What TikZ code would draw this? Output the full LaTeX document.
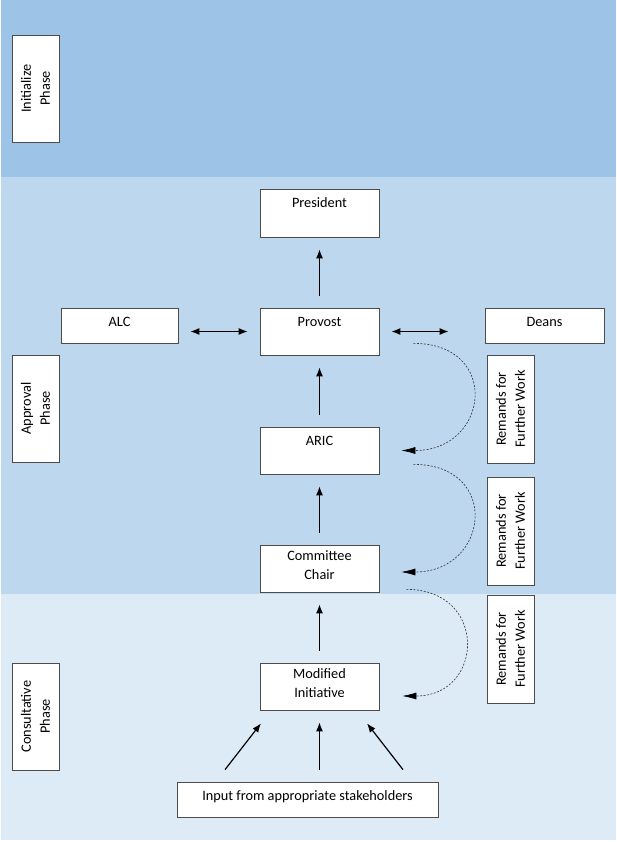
\documentclass[tikz,border=0pt]{standalone}
\usepackage{fontspec}
\setmainfont{Carlito}
\usetikzlibrary{arrows.meta}
\definecolor{initblue}{HTML}{9DC3E6}
\definecolor{apprblue}{HTML}{BDD7EE}
\definecolor{consblue}{HTML}{DDEBF7}
\tikzset{
  box/.style={draw=black!70, fill=white, line width=0.7pt, inner sep=0pt},
  main/.style={box, minimum width=119pt, minimum height=47pt},
  wide/.style={box, minimum height=35pt},
  lbl/.style={anchor=north, inner sep=0pt, align=center, yshift=-5.5pt, execute at begin node=\strut},
  phase/.style={box, rotate=90, align=center, minimum width=107pt, minimum height=47pt},
  remand/.style={box, rotate=90, align=center, minimum width=108pt, minimum height=47pt},
  arr/.style={-{Latex[length=9pt,width=7pt]}, line width=1.2pt, shorten <=12pt, shorten >=12pt},
  dbl/.style={{Latex[length=9pt,width=7pt]}-{Latex[length=9pt,width=7pt]}, line width=1.2pt},
  back/.style={-{Latex[length=14pt,width=7pt,color=black]}, dash pattern=on 2pt off 1.5pt, black!80, line width=0.6pt},
}
\begin{document}
\begin{tikzpicture}[x=1pt, y=-1pt, font=\fontsize{14.3}{19}\selectfont]
    \useasboundingbox (0,0) rectangle (616,842);
    % Phase bands
    \fill[initblue] (1,0) rectangle (616,177);
    \fill[apprblue] (1,177) rectangle (616,594);
    \fill[consblue] (1,594) rectangle (616,840);

    % Phase labels
    \node[phase] (init) at (35.5,88.5) {Initialize\\Phase};
    \node[phase] (appr) at (35.5,408.5) {Approval\\Phase};
    \node[phase] (cons) at (35.5,716.5) {Consultative\\Phase};

    % Nodes with manual coordinates
    \node[main, minimum height=48pt, label={[lbl]north:President}] (pres) at (319.5,213) {};
    \node[main, label={[lbl]north:Provost}] (prov) at (319.5,331.5) {};
    \node[main, label={[lbl]north:ARIC}] (aric) at (319.5,450.5) {};
    \node[main, label={[lbl]north:Committee\\Chair}] (chair) at (319.5,568.5) {};
    \node[main, label={[lbl]north:Modified\\Initiative}] (modi) at (319.5,686.5) {};
    \node[wide, minimum width=117pt, label={[lbl]north:ALC}] (alc) at (119.5,325.5) {};
    \node[wide, minimum width=119pt, label={[lbl]north:Deans}] (deans) at (544.5,325.5) {};
    \node[wide, minimum width=261pt, label={[lbl]north:Input from appropriate stakeholders}] (input) at (307.5,799.5) {};

    % Remands
    \node[remand] (rem1) at (510.5,409) {Remands for\\Further Work};
    \node[remand] (rem2) at (510.5,531) {Remands for\\Further Work};
    \node[remand] (rem3) at (510.5,649) {Remands for\\Further Work};

    % Edges
    \draw[arr] (prov) -- (pres);
    \draw[arr] (aric) -- (prov);
    \draw[arr] (chair) -- (aric);
    \draw[arr] (modi) -- (chair);
    \draw[dbl, shorten <=12pt, shorten >=12pt] (alc.east |- prov.west) -- (prov.west);
    \draw[dbl, shorten <=12pt, shorten >=36pt] (prov.east) -- (deans.west |- prov.east);
    \draw[arr, shorten <=0pt, shorten >=0pt] ([xshift=-82.5pt,yshift=12pt]input.north) -- ([xshift=-58.5pt,yshift=-13pt]modi.south);
    \draw[arr] (input.north -| modi.south) -- (modi.south);
    \draw[arr, shorten <=0pt, shorten >=0pt] ([xshift=95.5pt,yshift=12pt]input.north) -- ([xshift=47.5pt,yshift=-13pt]modi.south);

    % Remand arcs
    \draw[back] ([xshift=34pt,yshift=12pt]prov.south east) .. controls +(88,0) and +(88,0) .. ([xshift=22pt]aric.east);
    \draw[back] ([xshift=34pt,yshift=10pt]aric.south east) .. controls +(88,0) and +(88,0) .. ([xshift=22pt,yshift=-3.5pt]chair.east);
    \draw[back] ([xshift=27pt,yshift=3pt]chair.south east) .. controls +(82,0) and +(82,0) .. ([xshift=23pt,yshift=-9.5pt]modi.east);
\end{tikzpicture}
\end{document}
